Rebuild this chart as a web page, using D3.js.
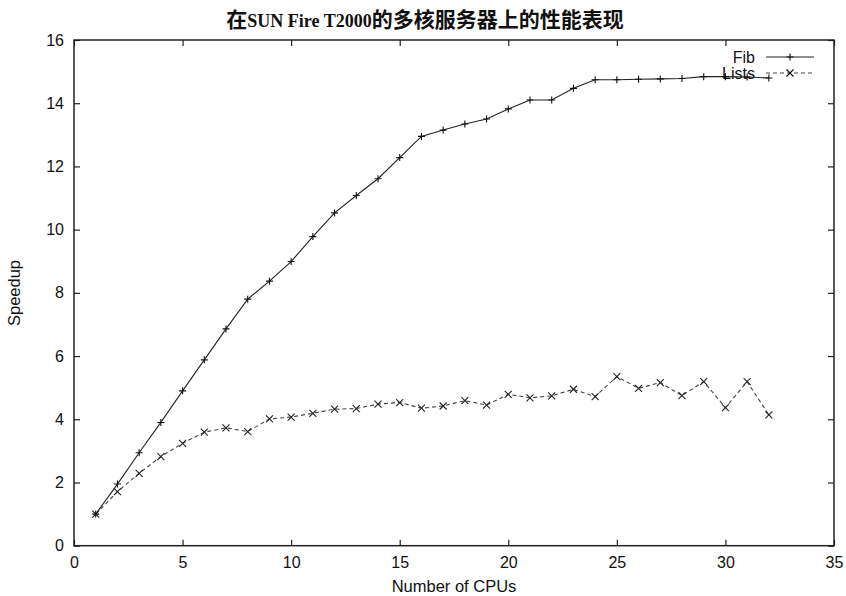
<!DOCTYPE html>
<html>
<head>
<meta charset="utf-8">
<script src="https://cdn.jsdelivr.net/npm/d3@7"></script>
<style>
  html, body { margin: 0; padding: 0; background: #fff; }
  svg { display: block; }
  .tick text { font-family: "Liberation Sans", Arial, sans-serif; font-size: 16px; fill: #111; }
</style>
</head>
<body>
<svg id="chart" width="846" height="596"></svg>
<script>
// speedup on the SUN Fire T2000
const cpus = d3.range(1, 33);
const fibSpeedup = [
  1.0, 1.95, 2.94, 3.9, 4.9, 5.88, 6.86, 7.8, 8.37, 8.99,
  9.78, 10.53, 11.08, 11.61, 12.28, 12.95, 13.15, 13.34, 13.5, 13.82,
  14.1, 14.1, 14.47, 14.74, 14.74, 14.76, 14.77, 14.78, 14.84, 14.84,
  14.83, 14.8
];
const listsSpeedup = [
  1.0, 1.71, 2.29, 2.82, 3.24, 3.59, 3.73, 3.61, 4.01, 4.07,
  4.19, 4.32, 4.34, 4.48, 4.53, 4.35, 4.42, 4.59, 4.45, 4.79,
  4.68, 4.74, 4.95, 4.72, 5.35, 4.98, 5.16, 4.75, 5.19, 4.37,
  5.19, 4.14
];
const xTicks = [0, 5, 10, 15, 20, 25, 30, 35];
const yTicks = [0, 2, 4, 6, 8, 10, 12, 14, 16];
const seriesNames = ["Fib", "Lists"];

const svg = d3.select("#chart");
const plotLeft = 74, plotRight = 834, plotTop = 40, plotBottom = 545.7;

const x = d3.scaleLinear().domain([0, 35]).range([plotLeft, plotRight]);
const y = d3.scaleLinear().domain([0, 16]).range([plotBottom, plotTop]);

// title: CJK glyphs plus a smaller serif latin run
const title = svg.append("text")
  .attr("x", 425)
  .attr("y", 27)
  .attr("text-anchor", "middle")
  .style("font-family", '"Liberation Serif", "Noto Sans CJK SC", serif')
  .style("font-weight", "bold")
  .style("font-size", "21px")
  .attr("fill", "#111");
title.append("tspan").text("在");
title.append("tspan").text("SUN Fire T2000")
  .style("font-size", "18px");
title.append("tspan").text("的多核服务器上的性能表现");

// axes, ticks pointing inward like gnuplot
const tickLen = 6;
const axisB = svg.append("g").attr("transform", `translate(0,${plotBottom})`)
  .call(d3.axisBottom(x).tickValues(xTicks).tickSize(-tickLen).tickSizeOuter(0).tickPadding(11));
const axisL = svg.append("g").attr("transform", `translate(${plotLeft},0)`)
  .call(d3.axisLeft(y).tickValues(yTicks).tickSize(-tickLen).tickSizeOuter(0).tickPadding(10));
const axisT = svg.append("g").attr("transform", `translate(0,${plotTop})`)
  .call(d3.axisTop(x).tickValues(xTicks).tickSize(-tickLen).tickSizeOuter(0).tickFormat(""));
const axisR = svg.append("g").attr("transform", `translate(${plotRight},0)`)
  .call(d3.axisRight(y).tickValues(yTicks).tickSize(-tickLen).tickSizeOuter(0).tickFormat(""));

[axisB, axisL, axisT, axisR].forEach(g => {
  g.select(".domain").remove();
  g.selectAll(".tick line").attr("stroke", "#222").attr("stroke-width", 1.2);
});

svg.append("rect")
  .attr("x", plotLeft).attr("y", plotTop)
  .attr("width", plotRight - plotLeft).attr("height", plotBottom - plotTop)
  .attr("fill", "none")
  .attr("stroke", "#222")
  .attr("stroke-width", 1.5);

// axis labels
svg.append("text")
  .attr("x", 454).attr("y", 592)
  .attr("text-anchor", "middle")
  .style("font-family", '"Liberation Sans", Arial, sans-serif')
  .style("font-size", "16.5px")
  .attr("fill", "#111")
  .text("Number of CPUs");

svg.append("text")
  .attr("transform", "translate(20,293) rotate(-90)")
  .attr("text-anchor", "middle")
  .style("font-family", '"Liberation Sans", Arial, sans-serif')
  .style("font-size", "16.5px")
  .attr("fill", "#111")
  .text("Speedup");

// series
const line = d3.line().x(d => x(d[0])).y(d => y(d[1]));
const fibPts = cpus.map((c, i) => [c, fibSpeedup[i]]);
const listPts = cpus.map((c, i) => [c, listsSpeedup[i]]);

const m = 3.5;
const plusPath = `M${-m},0H${m}M0,${-m}V${m}`;
const crossPath = `M${-m},${-m}L${m},${m}M${-m},${m}L${m},${-m}`;

svg.append("path")
  .datum(listPts)
  .attr("d", line)
  .attr("fill", "none")
  .attr("stroke", "#444")
  .attr("stroke-width", 1.1)
  .attr("stroke-dasharray", "4,3");

svg.append("path")
  .datum(fibPts)
  .attr("d", line)
  .attr("fill", "none")
  .attr("stroke", "#222")
  .attr("stroke-width", 1.1);

svg.append("g").selectAll("path")
  .data(listPts)
  .join("path")
  .attr("transform", d => `translate(${x(d[0])},${y(d[1])})`)
  .attr("d", crossPath)
  .attr("stroke", "#222")
  .attr("stroke-width", 1.1);

svg.append("g").selectAll("path")
  .data(fibPts)
  .join("path")
  .attr("transform", d => `translate(${x(d[0])},${y(d[1])})`)
  .attr("d", plusPath)
  .attr("stroke", "#111")
  .attr("stroke-width", 1.1);

// legend
const legendY = [57, 73];
const legend = svg.append("g");
seriesNames.forEach((name, i) => {
  const ly = legendY[i];
  legend.append("text")
    .attr("x", 755).attr("y", ly + 5.5)
    .attr("text-anchor", "end")
    .style("font-family", '"Liberation Sans", Arial, sans-serif')
    .style("font-size", "16px")
    .attr("fill", "#111")
    .text(name);
  legend.append("line")
    .attr("x1", 766).attr("x2", 814)
    .attr("y1", ly).attr("y2", ly)
    .attr("stroke", i === 0 ? "#222" : "#444")
    .attr("stroke-width", 1.1)
    .attr("stroke-dasharray", i === 0 ? null : "4,3");
  legend.append("path")
    .attr("transform", `translate(790,${ly})`)
    .attr("d", i === 0 ? plusPath : crossPath)
    .attr("stroke", "#111")
    .attr("stroke-width", 1.1);
});
</script>
</body>
</html>
